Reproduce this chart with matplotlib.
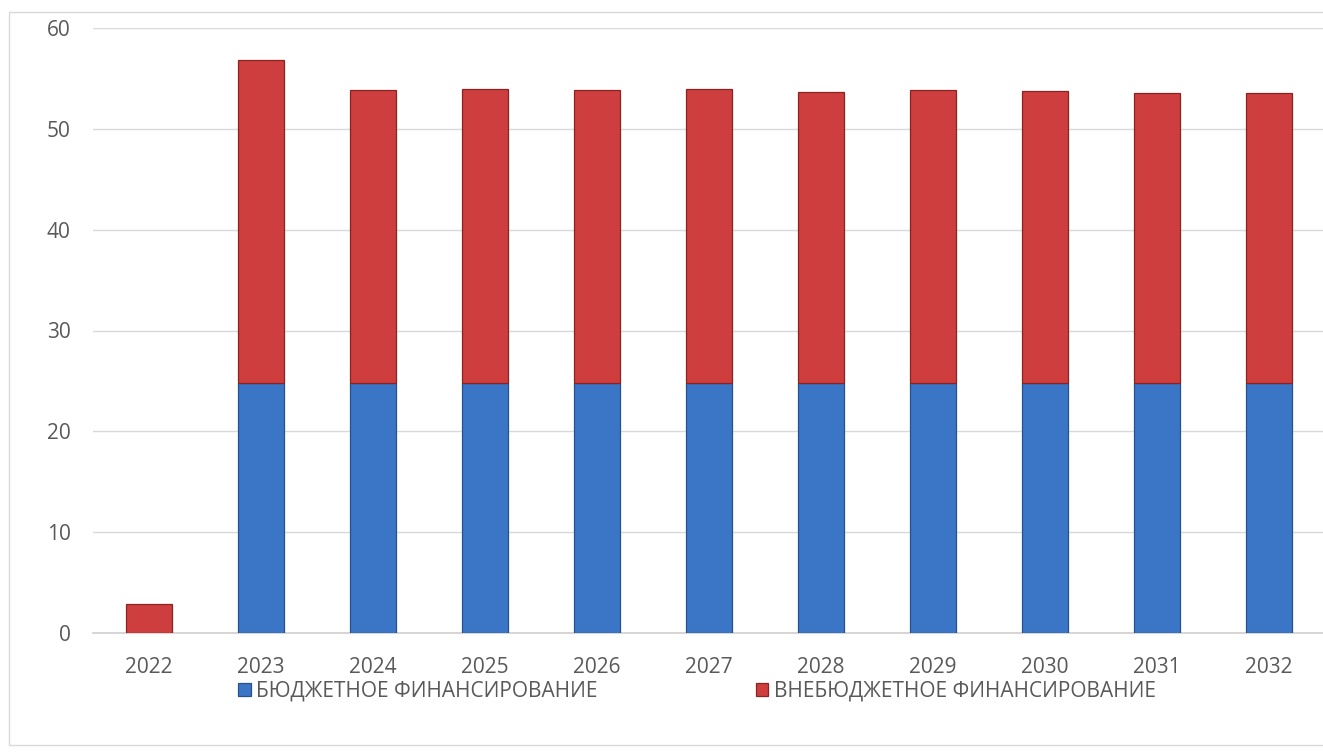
import matplotlib.pyplot as plt
from matplotlib.patches import Rectangle

# Годы и объемы финансирования
years = ['2022', '2023', '2024', '2025', '2026', '2027', '2028', '2029', '2030', '2031', '2032']
budget = [0, 24.8, 24.8, 24.8, 24.8, 24.8, 24.8, 24.8, 24.8, 24.8, 24.8]
extra = [2.9, 32.0, 29.1, 29.2, 29.1, 29.2, 28.9, 29.1, 29.0, 28.8, 28.8]

plt.rcParams['font.family'] = ['Open Sans', 'DejaVu Sans']

fig = plt.figure(figsize=(13.23, 7.54), dpi=100)
ax = fig.add_axes([92.8 / 1323, 1 - 633 / 754, 1232 / 1323, 605 / 754])

x = range(len(years))
ax.bar(x, budget, width=0.41, color='#3b75c6', edgecolor='#27528c', linewidth=0.9,
       label='БЮДЖЕТНОЕ ФИНАНСИРОВАНИЕ', zorder=3)
ax.bar(x, extra, width=0.41, bottom=budget, color='#cf3e3e', edgecolor='#8a2222', linewidth=0.9,
       label='ВНЕБЮДЖЕТНОЕ ФИНАНСИРОВАНИЕ', zorder=3)

ax.set_ylim(0, 60)
ax.set_yticks(range(0, 61, 10))
ax.set_xlim(-0.5, len(years) - 0.5)
ax.set_xticks(list(x))
ax.set_xticklabels(years)
ax.grid(axis='y', color='#d9d9d9', linewidth=1, zorder=0)
for s in ['top', 'right', 'left']:
    ax.spines[s].set_visible(False)
ax.spines['bottom'].set_color('#d0d0d0')
ax.spines['bottom'].set_linewidth(1.2)
ax.tick_params(length=0, labelsize=15, labelcolor='#595959')
ax.tick_params(axis='x', pad=17)
ax.tick_params(axis='y', pad=16)

fig.legend(loc='center', bbox_to_anchor=(697 / 1323, 1 - 691 / 754), ncol=2, frameon=False,
           fontsize=15, labelcolor='#595959', columnspacing=7.6, handlelength=0.6,
           handleheight=0.6, handletextpad=0.25)

# рамка вокруг диаграммы (правый край обрезан)
fig.patches.append(Rectangle((9 / 1323, 1 - 745 / 754), 1330 / 1323, 733 / 754,
                             transform=fig.transFigure, fill=False, edgecolor='#d9d9d9', linewidth=1))

fig.savefig('out.png', dpi=100)
